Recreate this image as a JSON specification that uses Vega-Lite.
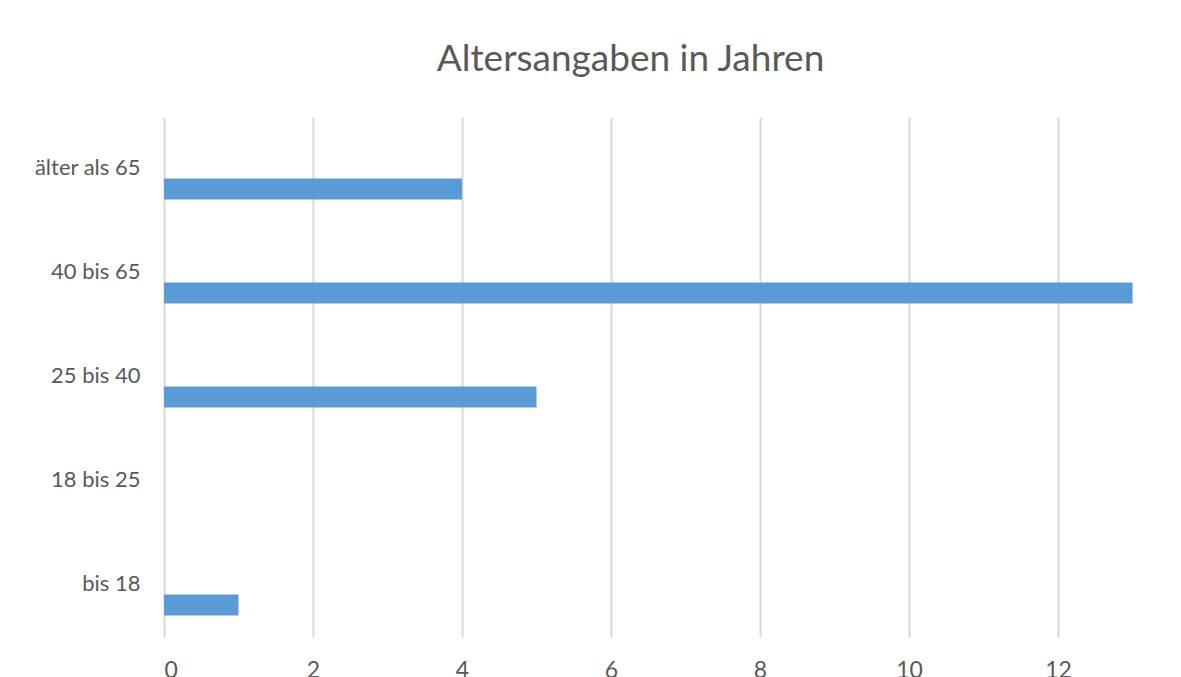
{
  "$schema": "https://vega.github.io/schema/vega-lite/v6.json",
  "autosize": {"type": "none"},
  "width": 1017,
  "height": 520,
  "padding": {"left": 164, "top": 117, "right": 0, "bottom": 40},
  "background": "white",
  "title": {
    "text": "Altersangaben in Jahren",
    "font": "Lato",
    "fontSize": 37,
    "fontWeight": "normal",
    "color": "#595959",
    "anchor": "middle",
    "dx": -42,
    "offset": 38
  },
  "data": {
    "values": [
      {"gruppe": "älter als 65", "anzahl": 4},
      {"gruppe": "40 bis 65", "anzahl": 13},
      {"gruppe": "25 bis 40", "anzahl": 5},
      {"gruppe": "18 bis 25", "anzahl": 0},
      {"gruppe": "bis 18", "anzahl": 1}
    ]
  },
  "mark": {"type": "bar", "color": "#5b9bd5", "height": 21, "yOffset": 20},
  "encoding": {
    "y": {
      "field": "gruppe",
      "type": "nominal",
      "sort": ["älter als 65", "40 bis 65", "25 bis 40", "18 bis 25", "bis 18"],
      "scale": {"paddingInner": 0, "paddingOuter": 0},
      "axis": {
        "title": null,
        "domain": false,
        "ticks": false,
        "labelFont": "Lato",
        "labelFontSize": 22,
        "labelColor": "#595959",
        "labelPadding": 24,
        "labelBaseline": "middle",
        "labelOffset": -1
      }
    },
    "x": {
      "field": "anzahl",
      "type": "quantitative",
      "scale": {"domain": [0, 13.65], "nice": false},
      "axis": {
        "title": null,
        "values": [0, 2, 4, 6, 8, 10, 12],
        "domain": false,
        "ticks": false,
        "grid": true,
        "gridColor": "#d9d9d9",
        "gridWidth": 2,
        "labelFont": "Lato",
        "labelFontSize": 23,
        "labelColor": "#595959",
        "labelPadding": 22
      }
    }
  },
  "config": {"view": {"stroke": null}}
}
